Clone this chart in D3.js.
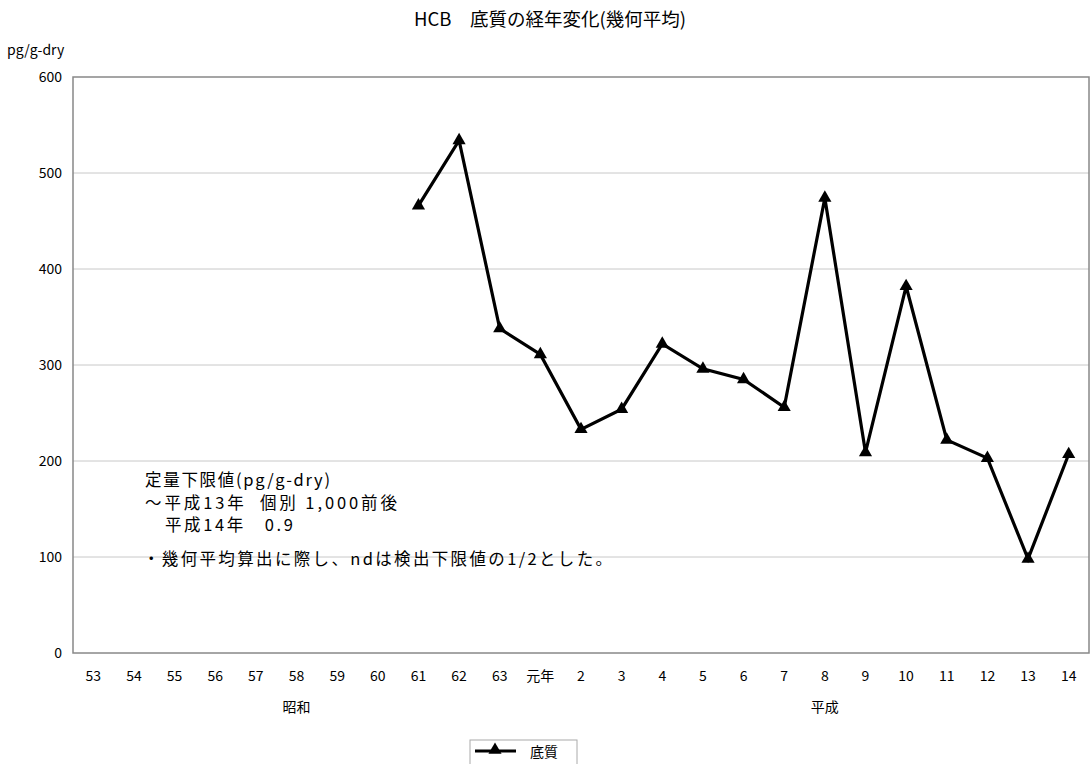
<!DOCTYPE html>
<html><head><meta charset="utf-8">
<script src="https://cdn.jsdelivr.net/npm/d3@7"></script>
<style>body{margin:0;background:#fff;}svg{display:block;font-family:"Noto Sans CJK JP","Noto Sans",sans-serif;}</style>
</head><body><svg id="c" width="1090" height="764"></svg>
<script>
const categories = ["53","54","55","56","57","58","59","60","61","62","63","元年","2","3","4","5","6","7","8","9","10","11","12","13","14"];
const values = [null,null,null,null,null,null,null,null,466,534,338,311,233,254,322,296,285,256,474,209,382,222,203,98,207];
const yTicks = [0,100,200,300,400,500,600];
const seriesName = "底質";
const title = "HCB　底質の経年変化(幾何平均)";
const yUnit = "pg/g-dry";
const eras = [{name:"昭和", at:"58"},{name:"平成", at:"8"}];
const notes = ["定量下限値(pg/g-dry)","～平成13年  個別 1,000前後","平成14年   0.9","・幾何平均算出に際し、ndは検出下限値の1/2とした。"];

const svg = d3.select("#c");
const L=73, R=1089, T=77, B=653;
const x = d3.scaleBand().domain(categories).range([L,R]);
const y = d3.scaleLinear().domain([0,600]).range([B,T]);

svg.append("text").attr("x",550).attr("y",26).attr("text-anchor","middle").attr("font-size",18.5).text(title);
svg.append("text").attr("x",7).attr("y",55).attr("font-size",14).text(yUnit);

// grid
svg.append("g").selectAll("line").data(yTicks.filter(d=>d>0&&d<600)).join("line")
  .attr("x1",L).attr("x2",R).attr("y1",d=>y(d)).attr("y2",d=>y(d)).attr("stroke","#c8c8c8").attr("stroke-width",1);
// frame
svg.append("rect").attr("x",L).attr("y",T).attr("width",R-L).attr("height",B-T).attr("fill","none").attr("stroke","#888").attr("stroke-width",1.5);

// y axis labels
svg.append("g").selectAll("text").data(yTicks).join("text")
  .attr("x",62).attr("y",d=>y(d)+5).attr("text-anchor","end").attr("font-size",14).text(d=>d);
// x labels
svg.append("g").selectAll("text").data(categories).join("text")
  .attr("x",d=>x(d)+x.bandwidth()/2).attr("y",681).attr("text-anchor","middle").attr("font-size",14).text(d=>d);
svg.append("g").selectAll("text").data(eras).join("text")
  .attr("x",d=>x(d.at)+x.bandwidth()/2).attr("y",712).attr("text-anchor","middle").attr("font-size",14).text(d=>d.name);

// notes
const noteX = [145,145,165,143], noteY=[486,508.5,531,565], noteW=[185,252,128,469];
svg.append("g").selectAll("text").data(notes).join("text")
  .attr("x",(d,i)=>noteX[i]).attr("y",(d,i)=>noteY[i]).attr("font-size",16.5)
  .attr("textLength",(d,i)=>noteW[i]).attr("lengthAdjust","spacing")
  .attr("xml:space","preserve").text(d=>d);

// line
const pts = categories.map((c,i)=>({c,v:values[i]})).filter(d=>d.v!=null);
const line = d3.line().x(d=>x(d.c)+x.bandwidth()/2).y(d=>y(d.v));
svg.append("path").datum(pts).attr("d",line).attr("fill","none").attr("stroke","#000").attr("stroke-width",3.2).attr("stroke-linejoin","miter");
const tri = d3.symbol().type(d3.symbolTriangle).size(75);
svg.append("g").selectAll("path").data(pts).join("path")
  .attr("transform",d=>`translate(${x(d.c)+x.bandwidth()/2},${y(d.v)})`).attr("d",tri).attr("fill","#000");

// legend
const lg = svg.append("g").attr("transform","translate(470,740)");
lg.append("rect").attr("x",0).attr("y",0).attr("width",107).attr("height",30).attr("fill","#fff").attr("stroke","#aaa");
lg.append("line").attr("x1",5).attr("x2",46).attr("y1",11).attr("y2",11).attr("stroke","#000").attr("stroke-width",3.2);
lg.append("path").attr("transform","translate(25,10)").attr("d",tri).attr("fill","#000");
lg.append("text").attr("x",60).attr("y",17).attr("font-size",14).text(seriesName);
</script></body></html>
